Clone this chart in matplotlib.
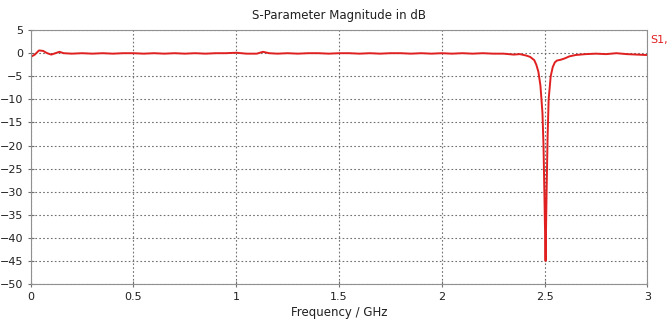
import matplotlib
matplotlib.use("Agg")
import matplotlib.pyplot as plt

plt.rcParams['font.family'] = ['Liberation Sans Narrow', 'DejaVu Sans']

# S11 magnitude (dB)
freq_ghz = [0.0, 0.02, 0.04, 0.06, 0.08, 0.10, 0.12, 0.14, 0.16, 0.20,
            0.25, 0.30, 0.35, 0.40, 0.45, 0.50, 0.55, 0.60, 0.65, 0.70,
            0.75, 0.80, 0.85, 0.90, 0.95, 1.00, 1.05, 1.10, 1.13, 1.16,
            1.20, 1.25, 1.30, 1.35, 1.40, 1.45, 1.50, 1.55, 1.60, 1.65,
            1.70, 1.75, 1.80, 1.85, 1.90, 1.95, 2.00, 2.05, 2.10, 2.15,
            2.20, 2.25, 2.30, 2.35, 2.38, 2.41, 2.43, 2.45, 2.46, 2.47,
            2.48, 2.49, 2.495, 2.50, 2.505, 2.51, 2.515, 2.52, 2.53, 2.54,
            2.55, 2.56, 2.58, 2.60, 2.62, 2.65, 2.70, 2.75, 2.80, 2.85,
            2.90, 2.95, 3.00]
s11_db = [-0.8, -0.3, 0.6, 0.5, 0.0, -0.3, 0.0, 0.3, 0.0, -0.1,
          0.0, -0.1, 0.0, -0.1, 0.0, 0.0, -0.1, 0.0, -0.1, 0.0,
          -0.1, 0.0, -0.1, 0.0, 0.0, 0.1, -0.1, -0.1, 0.3, 0.0,
          -0.1, 0.0, -0.1, 0.0, 0.0, -0.1, 0.0, 0.0, -0.1, 0.0,
          -0.1, 0.0, 0.0, -0.1, 0.0, -0.1, 0.0, -0.1, 0.0, -0.1,
          0.0, -0.1, -0.1, -0.3, -0.2, -0.5, -0.8, -1.5, -2.5, -4.0,
          -7.0, -13.0, -20.0, -32.0, -45.0, -30.0, -18.0, -10.0, -5.0, -3.0,
          -2.0, -1.6, -1.4, -1.1, -0.7, -0.4, -0.2, -0.1, -0.2, 0.0,
          -0.2, -0.3, -0.4]

x_ticks = [0, 0.5, 1, 1.5, 2, 2.5, 3]
x_tick_labels = ['0', '0.5', '1', '1.5', '2', '2.5', '3']
y_ticks = list(range(-50, 6, 5))

fig = plt.figure(figsize=(6.68, 3.31), dpi=100)
ax = fig.add_axes([0.046, 0.142, 0.923, 0.767])

ax.plot(freq_ghz, s11_db, color='#e02020', lw=1.4)

ax.set_xlim(0, 3)
ax.set_ylim(-50, 5)
ax.set_xticks(x_ticks)
ax.set_xticklabels(x_tick_labels)
ax.set_yticks(y_ticks)
ax.tick_params(axis='both', labelsize=8, color='#707070', length=4,
               direction='inout', labelcolor='#202020')
ax.grid(True, color='#707070', linestyle=(0, (1.5, 2)), lw=0.8)
for s in ax.spines.values():
    s.set_color('#909090')
    s.set_linewidth(0.8)

ax.set_title('S-Parameter Magnitude in dB', fontsize=8.5, pad=8, color='#202020')
ax.set_xlabel('Frequency / GHz', fontsize=8.5, labelpad=3, color='#202020')
fig.text(0.974, 0.87, 'S1,', color='#e02020', fontsize=8)

fig.savefig('out.png', dpi=100)
